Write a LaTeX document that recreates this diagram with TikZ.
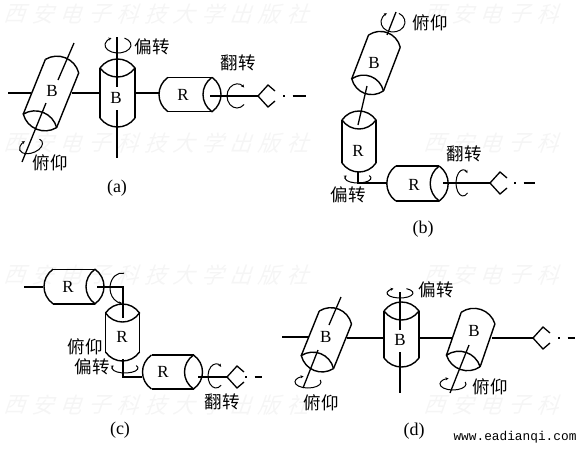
\documentclass[tikz,border=0pt]{standalone}
\usepackage{fontspec}
\setmainfont{Liberation Serif}
\setmonofont{Liberation Mono}
\newfontfamily\cjk{Noto Sans CJK SC}
\usetikzlibrary{arrows.meta}
\tikzset{
  body/.style={line width=1.4pt},
  shaft/.style={line width=1.3pt},
  tail/.style={line width=1.2pt,dash pattern=on 1.5pt off 8pt on 30pt},
  rot/.style={line width=1pt,-{Stealth[length=3pt,width=3pt]}},
  joint/.style={font=\fontsize{17}{17}\selectfont,inner sep=0pt},
  motion/.style={font=\cjk\fontsize{17.5}{17.5}\selectfont,inner sep=0pt},
  caption/.style={font=\fontsize{18}{18}\selectfont,inner sep=0pt},
  site/.style={font=\ttfamily\fontsize{12.8}{13}\selectfont,inner sep=0pt},
  wmark/.style={font=\cjk\fontsize{22}{22}\selectfont,text=black!4,inner sep=0pt,transform shape,xslant=0.35},
  % half length, half width; the open rim lies on the +x side
  pics/cyl/.style 2 args={code={
    \draw[body] (-#1,-#2) -- (#1,-#2) (-#1,#2) -- (#1,#2);
    \draw[body] (-#1,-#2) .. controls (-#1-12,-#2*0.5) and (-#1-12,#2*0.5) .. (-#1,#2);
    \draw[body] (#1,-#2) .. controls (#1+12,-#2*0.5) and (#1+12,#2*0.5) .. (#1,#2)
      .. controls (#1-12,#2*0.5) and (#1-12,-#2*0.5) .. (#1,-#2);
  }},
  % start angle, end angle, x radius, y radius
  pics/spin/.style n args={4}{code={
    \draw[rot] (#1:#3 and #4) arc[start angle=#1,end angle=#2,x radius=#3,y radius=#4];
  }},
  pics/grip/.style={code={
    \draw[shaft] (17,-5) -- (10,-11) -- (0,0) -- (10,11) -- (17,5);
  }}
}
\begin{document}
\begin{tikzpicture}[x=1pt,y=-1pt]
\useasboundingbox (0,0) rectangle (581,450);
% background marks
\foreach \r/\yy in {0/14,1/143,2/275,3/405} {
  \foreach \c [count=\k from 0] in {西,安,电,子,科,技,大,学,出,版,社} {
    \node[wmark] (wa\r\k) at (17+28.3*\k,\yy) {\c};
  }
  \foreach \c [count=\k from 0] in {西,安,电,子,科} {
    \node[wmark] (wb\r\k) at (437+28.3*\k,\yy) {\c};
  }
}
% (a)
\pic[rotate=248] at (51,93.5) {cyl={29.5}{18}};
\pic[rotate=90] at (117.5,93) {cyl={25}{17.5}};
\pic at (190,94.5) {cyl={22}{17.2}};
\node[joint] (b1a) at (52,91) {B};
\node[joint] (b2a) at (116,98) {B};
\node[joint] (r1a) at (183,95) {R};
\draw[shaft] (8,93) -- (31,93) (72,93) -- (100,93) (135,93) -- (159,93);
\draw[shaft] (74,43) -- (58,80) (46,103) -- (22,162);
\draw[shaft] (117,37) -- (117,87) (117,110) -- (117,158);
\draw[shaft] (210,96) -- (258,96);
\pic at (258,96) {grip};
\draw[tail] (283,96) -- (306,96);
\pic at (118,45) {spin={-60}{240}{13}{8}};
\pic at (237,96) {spin={45}{315}{10}{12}};
\pic[rotate=20] at (31,146) {spin={-30}{250}{12}{7}};
\node[motion] (pa) at (152,47) {偏转};
\node[motion] (fa) at (238,63) {翻转};
\node[motion] (ya) at (50,163) {俯仰};
\node[caption] (capa) at (117,188) {(a)};
% (b)
\pic[rotate=249] at (376,63) {cyl={23.4}{17}};
\pic[rotate=90] at (359,141.5) {cyl={21.5}{17}};
\pic at (417.5,183.5) {cyl={21.7}{17.5}};
\node[joint] (b1b) at (374,63) {B};
\node[joint] (r1b) at (358,151) {R};
\node[joint] (r2b) at (414,185) {R};
\draw[shaft] (396,12) -- (387,35) (367,86) -- (358,125);
\draw[shaft] (358,172) -- (358,183) -- (387,183);
\draw[shaft] (443,183) -- (490,183);
\pic at (490,183) {grip};
\draw[tail] (514,183) -- (535,183);
\pic at (393,22) {spin={-60}{240}{12}{10}};
\pic at (358,178) {spin={-30}{210}{13}{5}};
\pic at (463,183) {spin={50}{310}{7}{13}};
\node[motion] (yb) at (430,23) {俯仰};
\node[motion] (pb) at (348,195) {偏转};
\node[motion] (fb) at (464,154) {翻转};
\node[caption] (capb) at (423,229) {(b)};
% (c)
\pic at (74,286.5) {cyl={21}{17.3}};
\pic[rotate=90] at (122.5,332.5) {cyl={19.5}{17}};
\pic at (172.5,372) {cyl={21}{17}};
\node[joint] (r1c) at (68,287) {R};
\node[joint] (r2c) at (122,337) {R};
\node[joint] (r3c) at (163,372) {R};
\draw[shaft] (24,287) -- (43,287);
\draw[shaft] (97,287) -- (123,287) -- (123,318);
\draw[shaft] (123,359) -- (123,377) -- (142,377);
\draw[shaft] (198,377) -- (227,377);
\pic at (227,377) {grip};
\draw[tail] (245,377) -- (262,377);
\pic at (122,288) {spin={-100}{90}{-12}{15}};
\pic at (125,368) {spin={-30}{210}{13}{5}};
\pic at (216,376) {spin={50}{310}{8}{12}};
\node[motion] (yc) at (85,347) {俯仰};
\node[motion] (pc) at (92,367) {偏转};
\node[motion] (fc) at (222,402) {翻转};
\node[caption] (capc) at (120,430) {(c)};
% (d)
\pic[rotate=248] at (326.4,339.8) {cyl={24}{17.4}};
\pic[rotate=90] at (401.5,334.5) {cyl={23.5}{17.5}};
\pic[rotate=251] at (470.7,339.5) {cyl={22.7}{17.8}};
\node[joint] (b1d) at (325.7,337) {B};
\node[joint] (b2d) at (400,340) {B};
\node[joint] (b3d) at (474,331) {B};
\draw[shaft] (282,337) -- (309,337) (347,338) -- (384,338) (419,338) -- (453,338) (492,338) -- (533,338);
\draw[shaft] (341,297) -- (329,325) (318,350) -- (303,388);
\draw[shaft] (400,292) -- (400,330) (400,352) -- (400,393);
\draw[shaft] (469,345) -- (450,393);
\pic at (533,338) {grip};
\draw[tail] (558,338) -- (575,338);
\pic at (308,382) {spin={-20}{250}{13}{6}};
\pic at (400,293) {spin={-60}{240}{13}{5}};
\pic at (453,384) {spin={-20}{250}{13}{6}};
\node[motion] (yd) at (321,403) {俯仰};
\node[motion] (pd) at (436,290) {偏转};
\node[motion] (gd) at (490,387) {俯仰};
\node[caption] (capd) at (414,431) {(d)};
\node[site] (url) at (515,437) {www.eadianqi.com};
\end{tikzpicture}
\end{document}
